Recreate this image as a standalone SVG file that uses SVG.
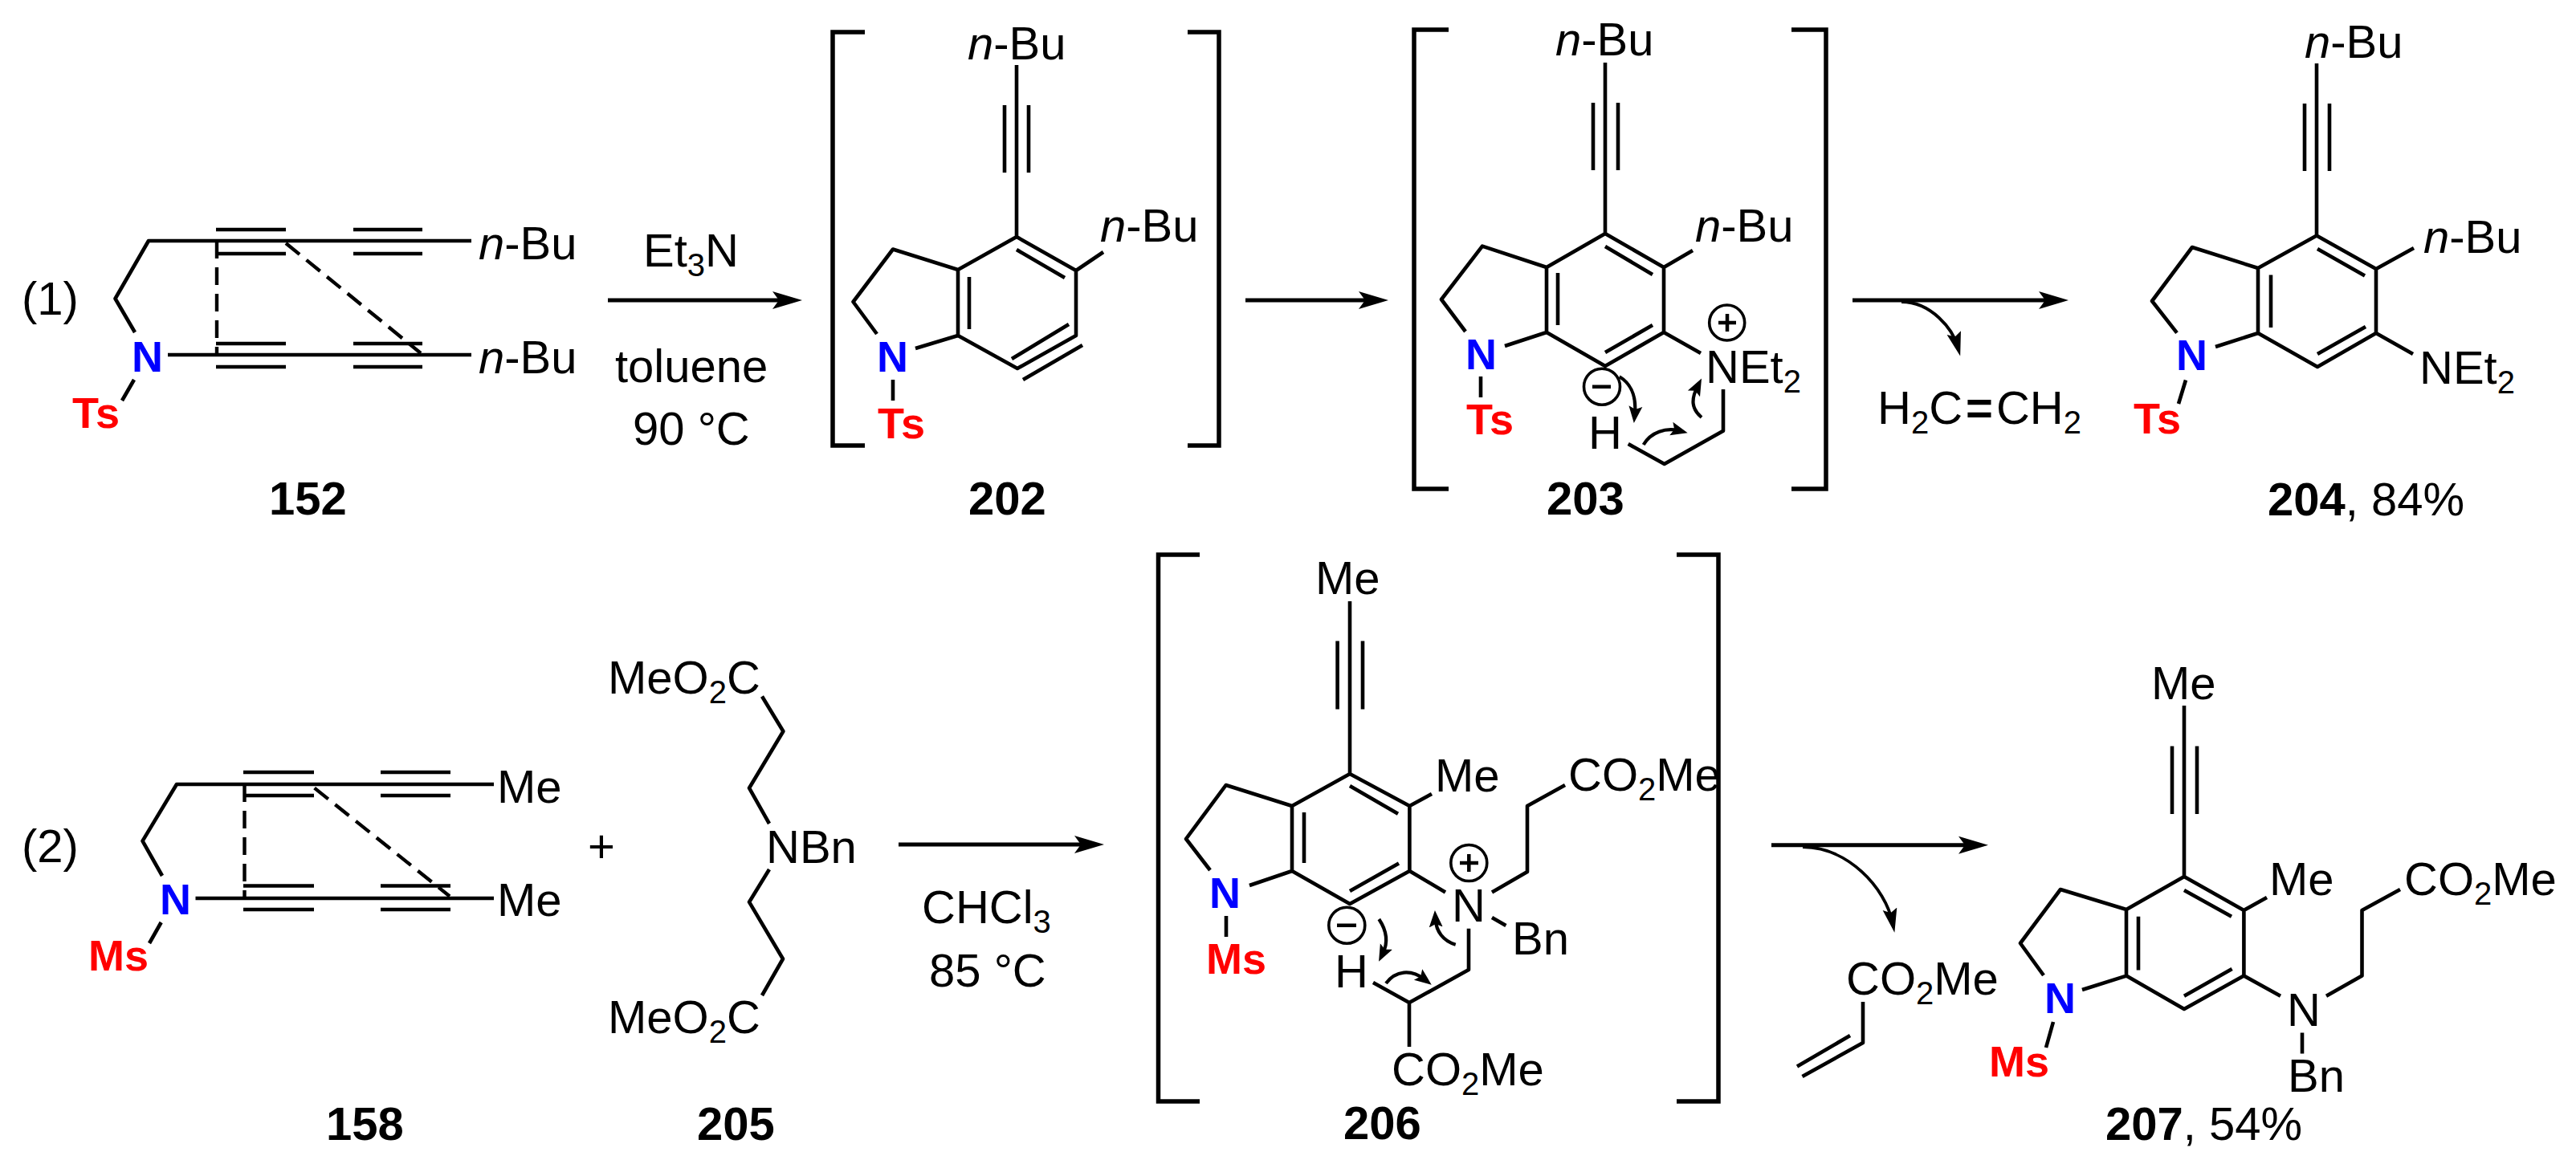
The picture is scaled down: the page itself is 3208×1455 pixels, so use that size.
<svg xmlns="http://www.w3.org/2000/svg" width="3208" height="1455" viewBox="0 0 3208 1455">
<style>
text{font-family:"Liberation Sans",Arial,sans-serif;font-size:58px;fill:#000}
.b{font-weight:700}
.n{font-weight:700;font-size:54px;fill:#0000ff}
.r{font-weight:700;font-size:54px;fill:#ff0000}
.i{font-style:italic}
.s{font-size:40px}
.bond{fill:none;stroke:#000;stroke-width:4.6;stroke-linejoin:round}
.brk{fill:none;stroke:#000;stroke-width:5.500;stroke-linejoin:miter}
.dash{fill:none;stroke:#000;stroke-width:4.4;stroke-dasharray:22 11}
.ch{fill:none;stroke:#000;stroke-width:3.6}
.chs{fill:none;stroke:#000;stroke-width:4.5}
.arr{fill:none;stroke:#000;stroke-width:5;marker-end:url(#big)}
.cv{fill:none;stroke:#000;stroke-width:3.8;marker-end:url(#mid)}
.mv{fill:none;stroke:#000;stroke-width:4.2;marker-end:url(#sm)}
</style>
<defs>
<marker id="big" markerUnits="userSpaceOnUse" markerWidth="40" markerHeight="24" viewBox="0 -12 40 24" refX="24" refY="0" orient="auto"><path d="M0,-11 L37,0 L0,11 L8,0Z" fill="#000"/></marker>
<marker id="mid" markerUnits="userSpaceOnUse" markerWidth="34" markerHeight="20" viewBox="0 -10 34 20" refX="18" refY="0" orient="auto"><path d="M0,-9 L30,0 L0,9 L5,0Z" fill="#000"/></marker>
<marker id="sm" markerUnits="userSpaceOnUse" markerWidth="26" markerHeight="20" viewBox="0 -10 26 20" refX="10" refY="0" orient="auto"><path d="M0,-8.500 L21,0 L0,8.500 L4,0Z" fill="#000"/></marker>
</defs>

<g id="label-1"><text x="27" y="392">(1)</text></g>
<g id="label-2"><text x="27" y="1074">(2)</text></g>

<g id="mol-152">
<path class="bond" d="M168,414 L143.500,372 L185,300 L587,300 M209,442 L587,442 M269,286H356 M269,316H356 M440,286H526 M440,316H526 M269,428H356 M269,457H356 M440,428H526 M440,457H526 M167,473 L152,499"/>
<path class="dash" d="M270,300V442 M356,303 L524,440"/>
<text class="n" x="164" y="463">N</text>
<text class="r" x="90" y="533">Ts</text>
<text x="596" y="323"><tspan class="i">n</tspan>-Bu</text>
<text x="596" y="465"><tspan class="i">n</tspan>-Bu</text>
<text class="b" x="335" y="641">152</text>
</g>

<g id="cond-1">
<text x="801" y="332">Et<tspan class="s" dy="12">3</tspan><tspan dy="-12">N</tspan></text>
<text x="766" y="476">toluene</text>
<text x="788" y="554">90 °C</text>
</g>

<g id="mol-202">
<path class="brk" d="M1077,40H1037V555H1077 M1479,40H1518V555H1479"/>
<path class="bond" d="M1266,81V295 M1251,131V215 M1281,131V215 M1266,295 L1340,337 L1340,418 L1267,459 L1193,418 L1193,336 Z M1193,336 L1112,310.500 L1062.500,376 L1092,416 M1140,434 L1193,418 M1266,311 L1326,346 M1207,345V410 M1260,447 L1331,404 M1274,473 L1348,430 M1340,337 L1374,314 M1112,473V499"/>
<text x="1205" y="74"><tspan class="i">n</tspan>-Bu</text>
<text x="1370" y="300.500"><tspan class="i">n</tspan>-Bu</text>
<text class="n" x="1092" y="463">N</text>
<text class="r" x="1093" y="545.500">Ts</text>
<text class="b" x="1206" y="641">202</text>
</g>

<g id="mol-203">
<path class="brk" d="M1804,37H1761V609H1804 M2231,37H2274V609H2231"/>
<path class="bond" d="M1999,78V291 M1984,128V212 M2015,128V212 M1999,291 L2072,333 L2072,414 L1999,456 L1926,414 L1926,333 Z M1926,333 L1846,306.600 L1795,373 L1825,413 M1874,431 L1926,414 M1999,307 L2058,342 M1940,340V405 M1999,439 L2058,405 M1844,469V495 M2072,333 L2108,312 M2072,414 L2118,440 M2027.700,553 L2072.700,578 L2146,536.700 L2146,485"/>
<path class="chs" d="M1983,481.700H2006 M2140,402H2162 M2151,391V413"/>
<circle class="ch" cx="1995" cy="481.700" r="22.500"/>
<circle class="ch" cx="2150.700" cy="402" r="22"/>
<text x="1937" y="69"><tspan class="i">n</tspan>-Bu</text>
<text x="2111" y="300.500"><tspan class="i">n</tspan>-Bu</text>
<text x="2124" y="477">NEt<tspan class="s" dy="12">2</tspan></text>
<text x="1978" y="559">H</text>
<text class="n" x="1825" y="460">N</text>
<text class="r" x="1826" y="541">Ts</text>
<text class="b" x="1926" y="641">203</text>
</g>

<g id="byproduct-ethene"><text x="2338" y="528">H<tspan class="s" dy="12">2</tspan><tspan dy="-12">C</tspan><tspan class="b" dx="4">=</tspan><tspan dx="4">CH</tspan><tspan class="s" dy="12">2</tspan></text></g>

<g id="mol-204">
<path class="bond" d="M2885,79V293.600 M2870,129V213 M2901,129V213 M2885,293.600 L2959,335 L2959,415 L2886,457 L2812,415 L2812,334 Z M2812,334 L2730,308 L2680,375 L2711,414.600 M2759,432 L2812,415 M2886,310 L2945,343.500 M2828,342.600V408 M2886,441 L2946,407 M2959,335 L3006,309 M2959,415 L3005,441 M2722,473.500 L2713,503"/>
<text x="2870" y="71.500"><tspan class="i">n</tspan>-Bu</text>
<text x="3018" y="315"><tspan class="i">n</tspan>-Bu</text>
<text x="3013" y="478">NEt<tspan class="s" dy="12">2</tspan></text>
<text class="n" x="2710" y="461">N</text>
<text class="r" x="2657" y="540">Ts</text>
<text x="2824" y="642"><tspan class="b">204</tspan>, 84%</text>
</g>

<g id="mol-158">
<path class="bond" d="M202,1091 L177.500,1047.600 L220,977 L615,977 M243.500,1119 L615,1119 M303,962H391 M303,991H391 M474,962H561 M474,991H561 M303,1103.500H391 M303,1133H391 M474,1103.500H561 M474,1133H561 M200.700,1149 L186,1175"/>
<path class="dash" d="M304.500,977V1119 M391.600,981.600 L560,1116.500"/>
<text class="n" x="199" y="1139">N</text>
<text class="r" x="110" y="1209">Ms</text>
<text x="619" y="999.500">Me</text>
<text x="619" y="1140.500">Me</text>
<text class="b" x="406" y="1420">158</text>
</g>

<g id="plus"><text x="732" y="1074">+</text></g>

<g id="mol-205">
<path class="bond" d="M949,867.500 L975.400,911 L933,981.700 L958,1026 M958,1083 L933,1123.700 L975,1194.500 L949,1240"/>
<text x="757" y="864">MeO<tspan class="s" dy="12">2</tspan><tspan dy="-12">C</tspan></text>
<text x="954" y="1074.600">NBn</text>
<text x="757" y="1287">MeO<tspan class="s" dy="12">2</tspan><tspan dy="-12">C</tspan></text>
<text class="b" x="868" y="1420">205</text>
</g>

<g id="cond-2">
<text x="1148" y="1149.600">CHCl<tspan class="s" dy="12">3</tspan></text>
<text x="1157" y="1229">85 °C</text>
</g>

<g id="mol-206">
<path class="brk" d="M1494,691H1442.500V1372H1494 M2088,691H2140V1372H2088"/>
<path class="bond" d="M1681,749V964 M1665.600,798.600V883.600 M1697,798.600V883.600 M1681,964 L1755.400,1004 L1755.400,1085 L1681,1126 L1609,1085 L1609,1004 Z M1609,1004 L1526.700,978 L1477,1045 L1507,1084 M1556,1103 L1609,1085 M1681,979 L1741,1013.700 M1624,1012V1075 M1681,1110 L1742,1075.500 M1755.400,1004 L1783,989 M1949,978 L1902,1004 L1902,1086 L1858,1111.500 M1755.400,1085 L1800,1111.500 M1858,1143 L1875.400,1153 M1829,1156.700V1208 L1755,1249 L1710,1224 M1755,1249V1304 M1527,1141V1167"/>
<path class="chs" d="M1665,1152.700H1689 M1818,1075H1841 M1829.300,1064V1086"/>
<circle class="ch" cx="1677.300" cy="1152.700" r="22.500"/>
<circle class="ch" cx="1829.300" cy="1075" r="22.500"/>
<text x="1638" y="740">Me</text>
<text x="1787" y="985.500">Me</text>
<text x="1953" y="985">CO<tspan class="s" dy="12">2</tspan><tspan dy="-12">Me</tspan></text>
<text x="1808" y="1148">N</text>
<text x="1883" y="1189">Bn</text>
<text x="1662" y="1230">H</text>
<text x="1733" y="1352">CO<tspan class="s" dy="12">2</tspan><tspan dy="-12">Me</tspan></text>
<text class="n" x="1506" y="1131">N</text>
<text class="r" x="1502" y="1213">Ms</text>
<text class="b" x="1673" y="1419">206</text>
</g>

<g id="byproduct-acrylate">
<path class="bond" d="M2320,1248V1299 L2244.500,1341 M2304,1290 L2238,1328.400"/>
<text x="2299" y="1238.600">CO<tspan class="s" dy="12">2</tspan><tspan dy="-12">Me</tspan></text>
</g>

<g id="mol-207">
<path class="bond" d="M2720,879V1092 M2705,929.500V1014 M2736,929.500V1014 M2720,1092 L2794.400,1134 L2794.400,1215.600 L2720,1257 L2648,1215.600 L2648,1133 Z M2648,1133 L2566,1108 L2516,1175 L2545,1215 M2593,1233 L2648,1215.600 M2720,1109 L2779,1141.700 M2663,1141.700V1208.500 M2720,1240.700 L2779.600,1207 M2794.400,1134 L2823,1118 M2989,1108 L2941.500,1134 L2941.500,1215.600 L2897,1240.700 M2794.400,1215.600 L2840,1240.700 M2867,1286.600V1312.500 M2557,1273 L2548,1305"/>
<text x="2679" y="871">Me</text>
<text x="2826" y="1115">Me</text>
<text x="2994" y="1115">CO<tspan class="s" dy="12">2</tspan><tspan dy="-12">Me</tspan></text>
<text x="2848" y="1278">N</text>
<text x="2849" y="1360">Bn</text>
<text class="n" x="2546" y="1261.600">N</text>
<text class="r" x="2477" y="1341">Ms</text>
<text x="2622" y="1419.500"><tspan class="b">207</tspan>, 54%</text>
</g>

<g id="connectors">
<path class="arr" d="M757,374H986"/>
<path class="arr" d="M1551,374H1716"/>
<path class="arr" d="M2307,374H2563"/>
<path class="arr" d="M1119,1052H1362"/>
<path class="arr" d="M2206,1052.700H2463"/>
<path class="cv" d="M2368,376 C2405,376 2432,410 2438,432"/>
<path class="cv" d="M2245,1055 C2300,1055 2348,1105 2357,1150"/>
<path class="mv" d="M2016.700,469.300 C2028,476 2038.500,490 2035.900,516"/>
<path class="mv" d="M2046.700,554 C2056,538 2075,532.500 2091,536.500"/>
<path class="mv" d="M2119,520 C2106,509 2106,497 2114,481.400"/>
<path class="mv" d="M1717.300,1145 C1726,1158 1730,1172 1722,1188"/>
<path class="mv" d="M1812.700,1176.700 C1797,1172 1788.500,1160 1787.600,1145"/>
<path class="mv" d="M1726,1225 C1738,1209 1757,1207 1774,1220"/>
</g>
</svg>
